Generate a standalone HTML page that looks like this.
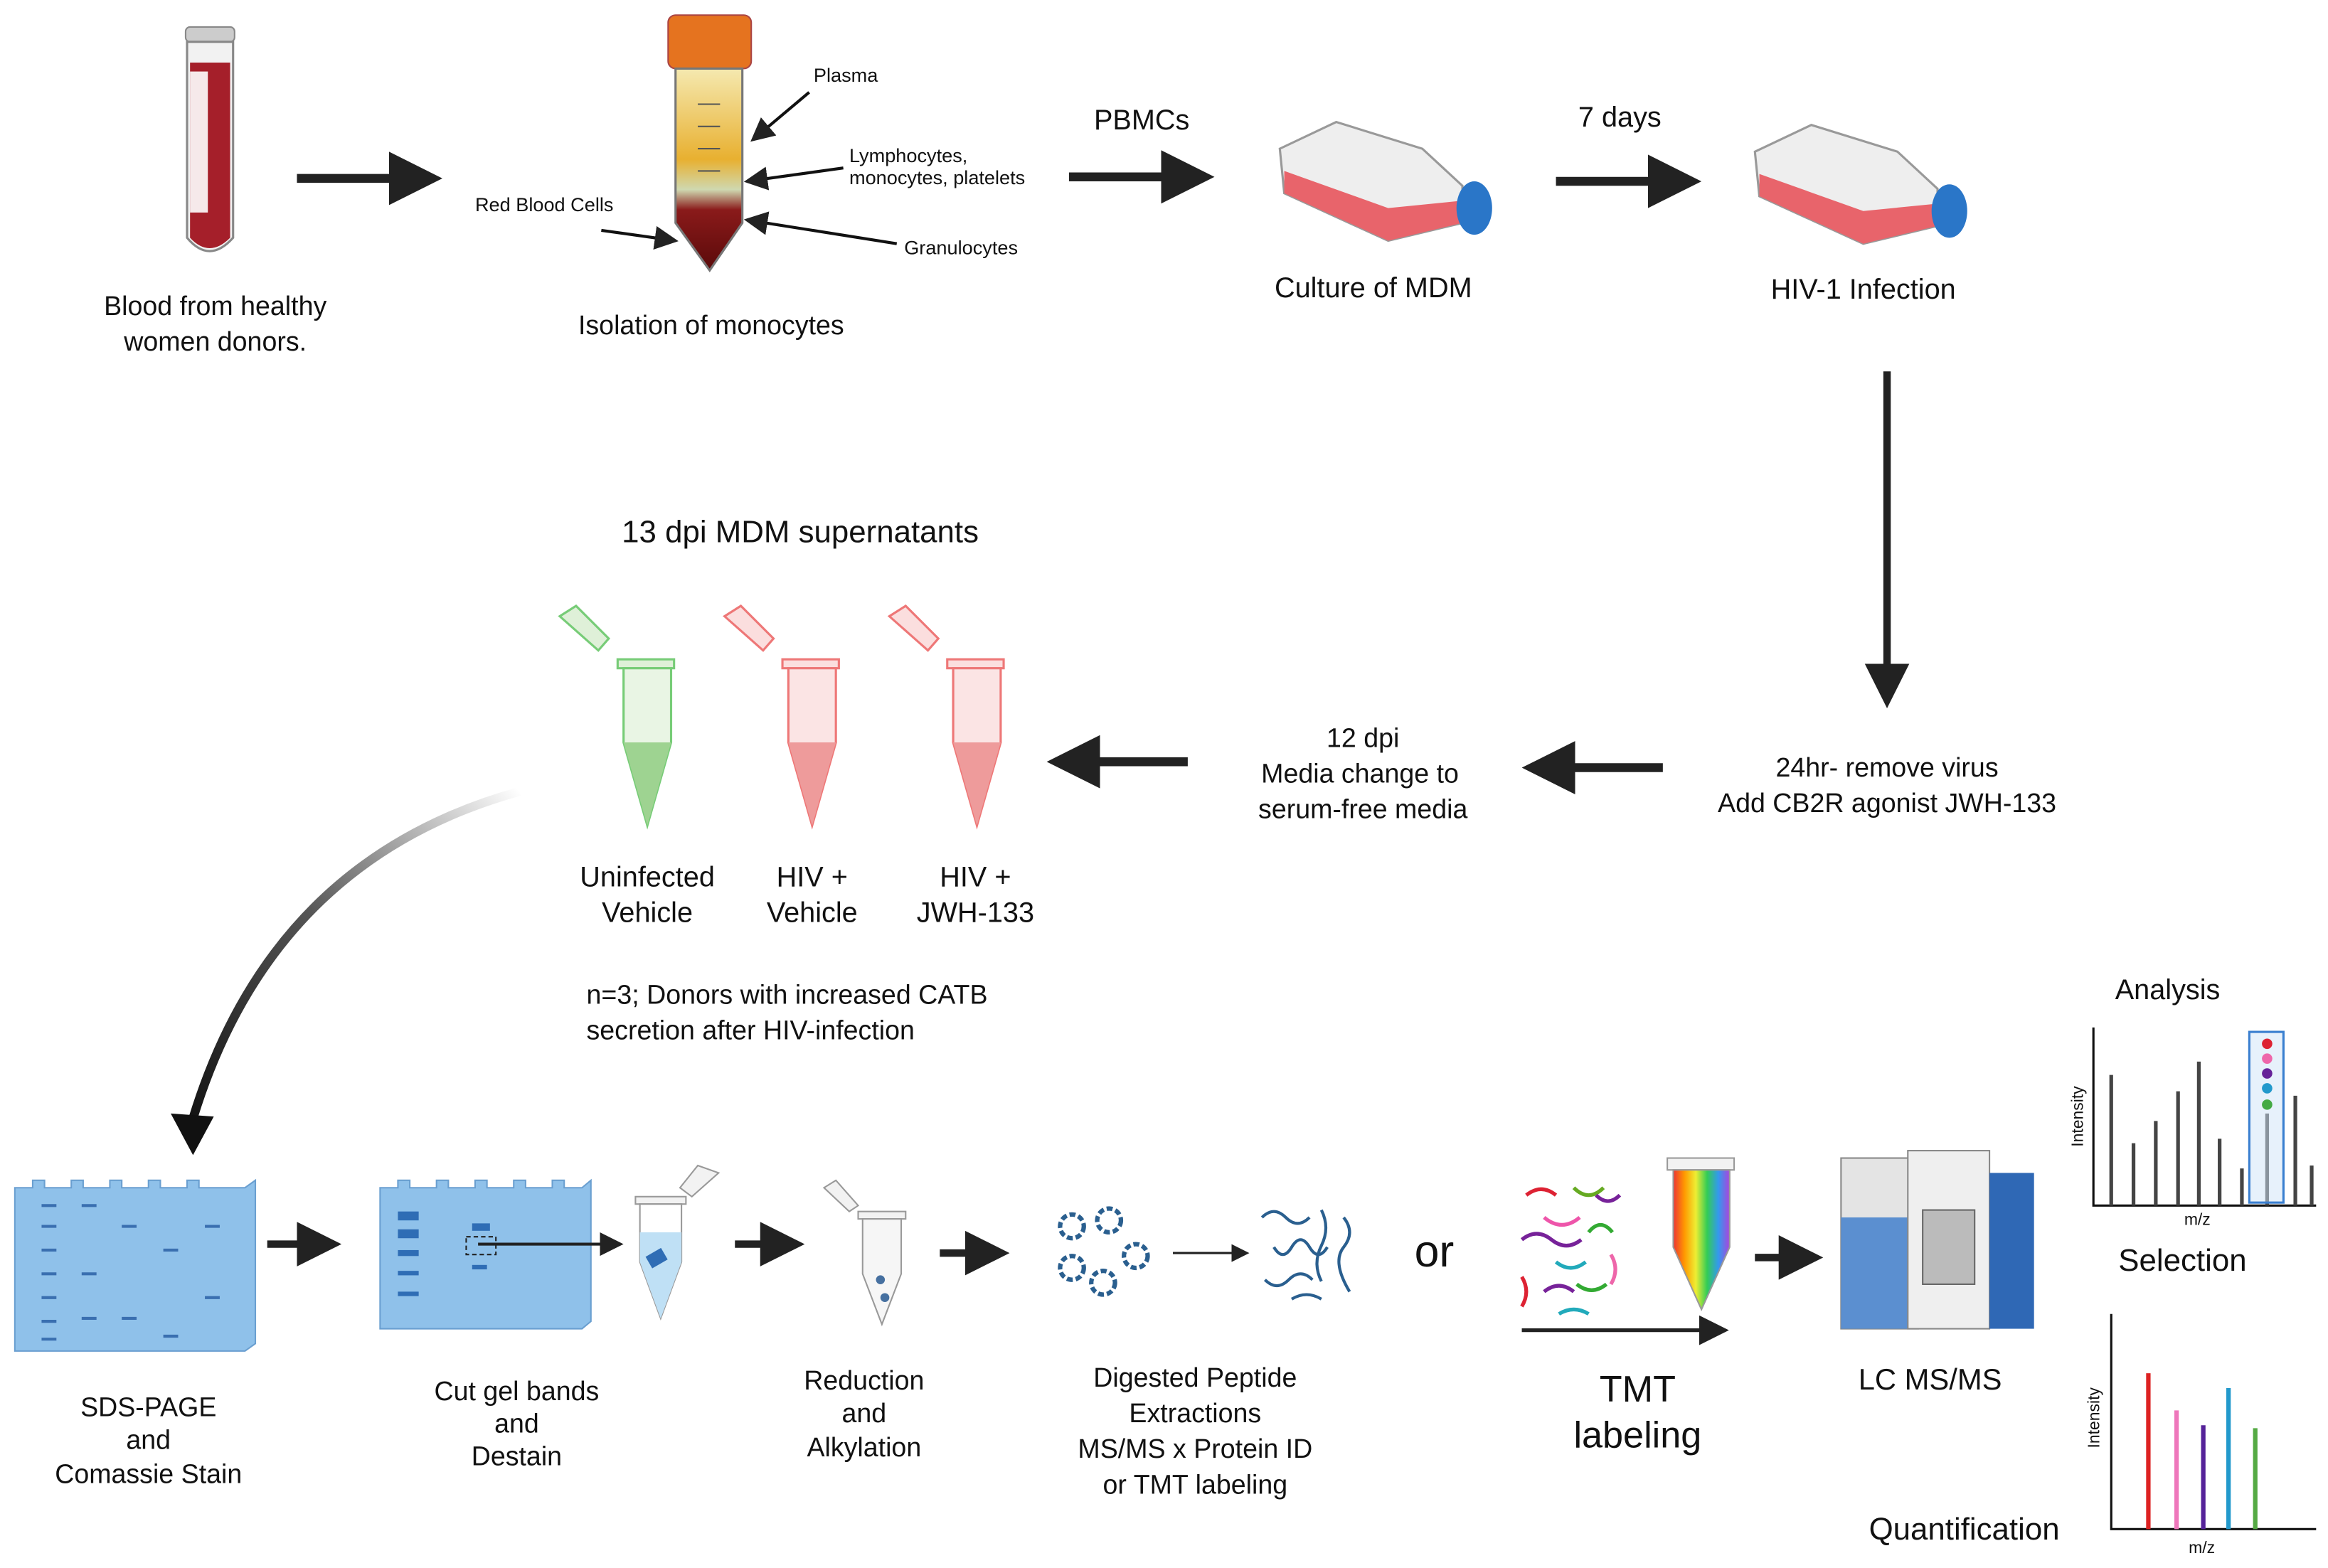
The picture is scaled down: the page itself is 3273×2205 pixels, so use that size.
<!DOCTYPE html>
<html><head><meta charset="utf-8"><style>
html,body{margin:0;padding:0;background:#fff}
svg{display:block}
text{font-family:"Liberation Sans",sans-serif;fill:#111}
</style></head><body>
<svg width="3273" height="2205" viewBox="0 0 1568 1056" xmlns="http://www.w3.org/2000/svg">
<defs>
<marker id="ah" markerWidth="6" markerHeight="6" refX="5" refY="3" orient="auto" markerUnits="strokeWidth"><path d="M0,0 L6,3 L0,6 z" fill="#222"/></marker>
<marker id="as" markerWidth="8" markerHeight="8" refX="7" refY="4" orient="auto" markerUnits="strokeWidth"><path d="M0,0 L8,4 L0,8 z" fill="#222"/></marker>
<linearGradient id="cg" x1="1" y1="0" x2="0" y2="1"><stop offset="0" stop-color="#fff"/><stop offset="0.5" stop-color="#555"/><stop offset="1" stop-color="#111"/></linearGradient>
<linearGradient id="rb" x1="0" y1="0" x2="1" y2="0"><stop offset="0" stop-color="#e33"/><stop offset="0.2" stop-color="#f90"/><stop offset="0.4" stop-color="#ee3"/><stop offset="0.6" stop-color="#3c5"/><stop offset="0.8" stop-color="#39e"/><stop offset="1" stop-color="#a4d"/></linearGradient>
<linearGradient id="fal" x1="0" y1="0" x2="0" y2="1"><stop offset="0" stop-color="#f5e9b0"/><stop offset="0.45" stop-color="#e8b030"/><stop offset="0.6" stop-color="#cfd8b0"/><stop offset="0.7" stop-color="#8a1a1a"/><stop offset="1" stop-color="#5a0a0a"/></linearGradient>
</defs>
<g font-size="18">
<!-- blood tube -->
<rect x="125" y="18" width="33" height="10" rx="3" fill="#ccc" stroke="#888"/>
<path d="M126,28 L126,160 Q141,178 157,160 L157,28 Z" fill="#f2f2f2" stroke="#888" stroke-width="1.5"/>
<path d="M128,42 L128,160 Q141,174 155,160 L155,42 Z" fill="#a51f2a"/>
<rect x="128" y="48" width="12" height="95" fill="#fff" opacity="0.9"/>
<text x="145" y="212" text-anchor="middle">Blood from healthy</text>
<text x="145" y="236" text-anchor="middle">women donors.</text>
<line x1="200" y1="120" x2="292" y2="120" stroke="#222" stroke-width="6" marker-end="url(#ah)"/>
<!-- falcon -->
<rect x="450" y="10" width="56" height="36" rx="5" fill="#e5731f" stroke="#a44"/>
<path d="M455,46 L455,150 L478,182 L500,150 L500,46 Z" fill="url(#fal)" stroke="#777" stroke-width="1.5"/>
<g stroke="#555" stroke-width="1"><line x1="470" y1="70" x2="485" y2="70"/><line x1="470" y1="85" x2="485" y2="85"/><line x1="470" y1="100" x2="485" y2="100"/><line x1="470" y1="115" x2="485" y2="115"/></g>
<g font-size="13">
<text x="548" y="55">Plasma</text>
<text x="572" y="109">Lymphocytes,</text>
<text x="572" y="124">monocytes, platelets</text>
<text x="320" y="142">Red Blood Cells</text>
<text x="609" y="171">Granulocytes</text>
</g>
<g stroke="#111" stroke-width="2" fill="none">
<line x1="545" y1="62" x2="507" y2="94" marker-end="url(#as)"/>
<line x1="568" y1="113" x2="503" y2="122" marker-end="url(#as)"/>
<line x1="405" y1="155" x2="455" y2="162" marker-end="url(#as)"/>
<line x1="604" y1="164" x2="503" y2="148" marker-end="url(#as)"/>
</g>
<text x="479" y="225" text-anchor="middle">Isolation of monocytes</text>
<text x="769" y="87" text-anchor="middle" font-size="19">PBMCs</text>
<line x1="720" y1="119" x2="812" y2="119" stroke="#222" stroke-width="6" marker-end="url(#ah)"/>
<!-- flasks -->
<g id="fl">
<path d="M862,100 L900,82 L958,100 L985,125 L985,150 L935,162 L865,130 Z" fill="#eee" stroke="#999" stroke-width="1.5"/>
<path d="M865,115 L935,140 L985,135 L985,150 L935,162 L865,130 Z" fill="#e8646b"/>
<ellipse cx="993" cy="140" rx="12" ry="18" fill="#2a76c8"/>
</g>
<use href="#fl" x="320" y="2"/>
<text x="925" y="200" text-anchor="middle" font-size="19">Culture of MDM</text>
<text x="1091" y="85" text-anchor="middle" font-size="19">7 days</text>
<line x1="1048" y1="122" x2="1140" y2="122" stroke="#222" stroke-width="6" marker-end="url(#ah)"/>
<text x="1255" y="201" text-anchor="middle" font-size="19">HIV-1 Infection</text>
<line x1="1271" y1="250" x2="1271" y2="472" stroke="#222" stroke-width="5" marker-end="url(#ah)"/>
<text x="1271" y="523" text-anchor="middle">24hr- remove virus</text>
<text x="1271" y="547" text-anchor="middle">Add CB2R agonist JWH-133</text>
<line x1="1120" y1="517" x2="1031" y2="517" stroke="#222" stroke-width="6" marker-end="url(#ah)"/>
<text x="918" y="503" text-anchor="middle">12 dpi</text>
<text x="916" y="527" text-anchor="middle">Media change to</text>
<text x="918" y="551" text-anchor="middle">serum-free media</text>
<line x1="800" y1="513" x2="711" y2="513" stroke="#222" stroke-width="6" marker-end="url(#ah)"/>
<text x="539" y="365" text-anchor="middle" font-size="21">13 dpi MDM supernatants</text>
<!-- eppendorfs -->
<g id="ep1">
<path d="M377,415 L388,408 L410,430 L403,438 Z" fill="#dff0d8" stroke="#7c7" stroke-width="1.5"/>
<rect x="416" y="444" width="38" height="6" fill="#dff0d8" stroke="#7c7" stroke-width="1.5"/>
<path d="M420,450 L420,500 L436,556 L452,500 L452,450 Z" fill="#e9f5e4" stroke="#7c7" stroke-width="1.5"/>
<path d="M420,500 L436,556 L452,500 Z" fill="#9ed391"/>
</g>
<g transform="translate(111,0)">
<path d="M377,415 L388,408 L410,430 L403,438 Z" fill="#fbdede" stroke="#e77" stroke-width="1.5"/>
<rect x="416" y="444" width="38" height="6" fill="#fbdede" stroke="#e77" stroke-width="1.5"/>
<path d="M420,450 L420,500 L436,556 L452,500 L452,450 Z" fill="#fbe4e4" stroke="#e77" stroke-width="1.5"/>
<path d="M420,500 L436,556 L452,500 Z" fill="#ee9b9b"/>
</g>
<g transform="translate(222,0)">
<path d="M377,415 L388,408 L410,430 L403,438 Z" fill="#fbdede" stroke="#e77" stroke-width="1.5"/>
<rect x="416" y="444" width="38" height="6" fill="#fbdede" stroke="#e77" stroke-width="1.5"/>
<path d="M420,450 L420,500 L436,556 L452,500 L452,450 Z" fill="#fbe4e4" stroke="#e77" stroke-width="1.5"/>
<path d="M420,500 L436,556 L452,500 Z" fill="#ee9b9b"/>
</g>
<g font-size="19" text-anchor="middle">
<text x="436" y="597">Uninfected</text><text x="436" y="621">Vehicle</text>
<text x="547" y="597">HIV +</text><text x="547" y="621">Vehicle</text>
<text x="657" y="597">HIV +</text><text x="657" y="621">JWH-133</text>
</g>
<text x="395" y="676">n=3; Donors with increased CATB</text>
<text x="395" y="700">secretion after HIV-infection</text>
<path d="M350,533 Q180,580 128,760" fill="none" stroke="url(#cg)" stroke-width="6"/>
<path d="M115,750 L130,778 L144,752 Z" fill="#111"/>
<!-- gel 1 -->
<path d="M10,800 L22,800 L22,795 L30,795 L30,800 L48,800 L48,795 L56,795 L56,800 L74,800 L74,795 L82,795 L82,800 L100,800 L100,795 L108,795 L108,800 L126,800 L126,795 L134,795 L134,800 L165,800 L172,795 L172,905 L165,910 L10,910 Z" fill="#8fc1ea" stroke="#6a9fd0"/>
<g stroke="#3a6fb0" stroke-width="2">
<line x1="28" y1="812" x2="38" y2="812"/><line x1="28" y1="826" x2="38" y2="826"/><line x1="28" y1="842" x2="38" y2="842"/><line x1="28" y1="858" x2="38" y2="858"/><line x1="28" y1="874" x2="38" y2="874"/><line x1="28" y1="890" x2="38" y2="890"/><line x1="28" y1="902" x2="38" y2="902"/>
<line x1="55" y1="812" x2="65" y2="812"/><line x1="55" y1="858" x2="65" y2="858"/><line x1="55" y1="888" x2="65" y2="888"/>
<line x1="82" y1="826" x2="92" y2="826"/><line x1="82" y1="888" x2="92" y2="888"/>
<line x1="110" y1="842" x2="120" y2="842"/><line x1="110" y1="900" x2="120" y2="900"/>
<line x1="138" y1="826" x2="148" y2="826"/><line x1="138" y1="874" x2="148" y2="874"/>
</g>
<line x1="180" y1="838" x2="225" y2="838" stroke="#222" stroke-width="5" marker-end="url(#ah)"/>
<text x="100" y="954" text-anchor="middle">SDS-PAGE</text><text x="100" y="976" text-anchor="middle">and</text><text x="100" y="999" text-anchor="middle">Comassie Stain</text>
<!-- gel 2 -->
<path d="M256,800 L268,800 L268,795 L276,795 L276,800 L294,800 L294,795 L302,795 L302,800 L320,800 L320,795 L328,795 L328,800 L346,800 L346,795 L354,795 L354,800 L372,800 L372,795 L380,795 L380,800 L392,800 L398,795 L398,890 L392,895 L256,895 Z" fill="#8fc1ea" stroke="#6a9fd0"/>
<g fill="#2f6db5"><rect x="268" y="816" width="14" height="6"/><rect x="268" y="828" width="14" height="6"/><rect x="268" y="842" width="14" height="4"/><rect x="268" y="856" width="14" height="3"/><rect x="268" y="870" width="14" height="3"/><rect x="318" y="824" width="12" height="5"/><rect x="318" y="852" width="10" height="3"/></g>
<rect x="314" y="833" width="20" height="12" fill="none" stroke="#222" stroke-dasharray="3,2"/>
<line x1="322" y1="838" x2="418" y2="838" stroke="#222" stroke-width="2" marker-end="url(#as)"/>
<path d="M458,800 L470,785 L484,790 L466,806 Z" fill="#f2f2f2" stroke="#999"/>
<rect x="428" y="806" width="34" height="5" fill="#f2f2f2" stroke="#999"/>
<path d="M431,811 L431,850 L445,888 L459,850 L459,811 Z" fill="#fff" stroke="#999"/>
<path d="M431,830 L431,850 L445,888 L459,850 L459,830 Z" fill="#bfe0f5"/>
<rect x="436" y="843" width="12" height="9" fill="#2f6db5" transform="rotate(-30 442 847)"/>
<text x="348" y="943" text-anchor="middle">Cut gel bands</text><text x="348" y="965" text-anchor="middle">and</text><text x="348" y="987" text-anchor="middle">Destain</text>
<line x1="495" y1="838" x2="537" y2="838" stroke="#222" stroke-width="5" marker-end="url(#ah)"/>
<path d="M555,800 L563,795 L578,812 L572,816 Z" fill="#f2f2f2" stroke="#999"/>
<rect x="578" y="816" width="32" height="5" fill="#f2f2f2" stroke="#999"/>
<path d="M581,821 L581,858 L594,892 L607,858 L607,821 Z" fill="#f6f6f6" stroke="#999"/>
<circle cx="593" cy="862" r="3" fill="#4670a0"/><circle cx="596" cy="874" r="3" fill="#4670a0"/>
<text x="582" y="936" text-anchor="middle">Reduction</text><text x="582" y="958" text-anchor="middle">and</text><text x="582" y="981" text-anchor="middle">Alkylation</text>
<line x1="633" y1="844" x2="675" y2="844" stroke="#222" stroke-width="5" marker-end="url(#ah)"/>
<g fill="none" stroke="#2a5f8f" stroke-width="3">
<circle cx="722" cy="826" r="8" stroke-dasharray="4,2"/><circle cx="747" cy="822" r="8" stroke-dasharray="4,2"/><circle cx="722" cy="854" r="8" stroke-dasharray="4,2"/><circle cx="765" cy="846" r="8" stroke-dasharray="4,2"/><circle cx="743" cy="864" r="8" stroke-dasharray="4,2"/>
</g>
<line x1="790" y1="844" x2="840" y2="844" stroke="#222" stroke-width="1.5" marker-end="url(#as)"/>
<g fill="none" stroke="#2a5f8f" stroke-width="2">
<path d="M850,820 q8,-8 16,0 t16,0"/><path d="M858,840 q6,10 12,0 t12,0 t12,0"/><path d="M852,862 q8,8 16,0 t16,0"/><path d="M890,815 q6,12 0,24 t0,24"/><path d="M905,820 q8,10 0,20 t4,30"/><path d="M870,875 q10,-6 20,0"/>
</g>
<g text-anchor="middle"><text x="805" y="934">Digested Peptide</text><text x="805" y="958">Extractions</text><text x="805" y="982">MS/MS x Protein ID</text><text x="805" y="1006">or TMT labeling</text></g>
<text x="966" y="853" text-anchor="middle" font-size="30">or</text>
<g fill="none" stroke-width="2.5">
<path d="M1028,805 q10,-8 20,0" stroke="#d23"/><path d="M1040,820 q12,10 24,0" stroke="#e5a"/><path d="M1060,800 q10,10 20,0" stroke="#6a2"/><path d="M1025,835 q10,-8 20,0 t20,0" stroke="#729"/><path d="M1070,830 q8,-10 16,0" stroke="#3a3"/><path d="M1048,850 q10,8 20,0" stroke="#2ab"/><path d="M1085,845 q6,10 0,20" stroke="#e6a"/><path d="M1025,860 q6,10 0,20" stroke="#d23"/><path d="M1040,870 q10,-8 20,0" stroke="#729"/><path d="M1062,865 q10,8 20,0" stroke="#3a3"/><path d="M1050,885 q10,-6 20,0" stroke="#2ab"/><path d="M1075,805 q8,8 16,0" stroke="#729"/>
</g>
<rect x="1123" y="780" width="45" height="8" fill="#f2f2f2" stroke="#999"/>
<path d="M1127,788 L1127,840 L1146,882 L1165,840 L1165,788 Z" fill="url(#rb)" stroke="#999"/>
<line x1="1025" y1="896" x2="1162" y2="896" stroke="#222" stroke-width="2.5" marker-end="url(#as)"/>
<text x="1103" y="944" text-anchor="middle" font-size="25">TMT</text><text x="1103" y="975" text-anchor="middle" font-size="25">labeling</text>
<line x1="1182" y1="847" x2="1223" y2="847" stroke="#222" stroke-width="5" marker-end="url(#ah)"/>
<!-- instrument -->
<rect x="1240" y="780" width="52" height="115" fill="#e4e4e4" stroke="#888"/>
<rect x="1240" y="820" width="52" height="75" fill="#5b8fd0"/>
<rect x="1285" y="775" width="55" height="120" fill="#efefef" stroke="#888"/>
<rect x="1295" y="815" width="35" height="50" fill="#bbb" stroke="#666"/>
<rect x="1340" y="790" width="30" height="105" fill="#2f68b5"/>
<text x="1300" y="936" text-anchor="middle" font-size="20">LC MS/MS</text>
<!-- charts -->
<text x="1460" y="673" text-anchor="middle" font-size="19">Analysis</text>
<polyline points="1410,692 1410,812 1560,812" fill="none" stroke="#111" stroke-width="1.5"/>
<g stroke="#444" stroke-width="2.5"><line x1="1422" y1="812" x2="1422" y2="724"/><line x1="1437" y1="812" x2="1437" y2="770"/><line x1="1452" y1="812" x2="1452" y2="755"/><line x1="1467" y1="812" x2="1467" y2="735"/><line x1="1481" y1="812" x2="1481" y2="715"/><line x1="1495" y1="812" x2="1495" y2="767"/><line x1="1510" y1="812" x2="1510" y2="787"/><line x1="1527" y1="812" x2="1527" y2="750"/><line x1="1546" y1="812" x2="1546" y2="738"/><line x1="1557" y1="812" x2="1557" y2="785"/></g>
<rect x="1515" y="695" width="23" height="115" fill="#cfe3f7" fill-opacity="0.5" stroke="#3a7fd0" stroke-width="1.5"/>
<circle cx="1527" cy="703" r="3.5" fill="#d23"/><circle cx="1527" cy="713" r="3.5" fill="#e6a"/><circle cx="1527" cy="723" r="3.5" fill="#629"/><circle cx="1527" cy="733" r="3.5" fill="#29c"/><circle cx="1527" cy="744" r="3.5" fill="#4a4"/>
<text x="1480" y="825" text-anchor="middle" font-size="11">m/z</text>
<text transform="translate(1403,752) rotate(-90)" text-anchor="middle" font-size="11">Intensity</text>
<text x="1470" y="856" text-anchor="middle" font-size="21">Selection</text>
<polyline points="1422,885 1422,1030 1560,1030" fill="none" stroke="#111" stroke-width="1.5"/>
<line x1="1447" y1="1030" x2="1447" y2="925" stroke="#d22" stroke-width="3"/>
<line x1="1466" y1="1030" x2="1466" y2="950" stroke="#e7b" stroke-width="3"/>
<line x1="1484" y1="1030" x2="1484" y2="960" stroke="#529" stroke-width="3"/>
<line x1="1501" y1="1030" x2="1501" y2="935" stroke="#29c" stroke-width="3"/>
<line x1="1519" y1="1030" x2="1519" y2="962" stroke="#5a4" stroke-width="3"/>
<text x="1483" y="1046" text-anchor="middle" font-size="11">m/z</text>
<text transform="translate(1414,955) rotate(-90)" text-anchor="middle" font-size="11">Intensity</text>
<text x="1323" y="1037" text-anchor="middle" font-size="21">Quantification</text>
</g>
</svg>
</body></html>
